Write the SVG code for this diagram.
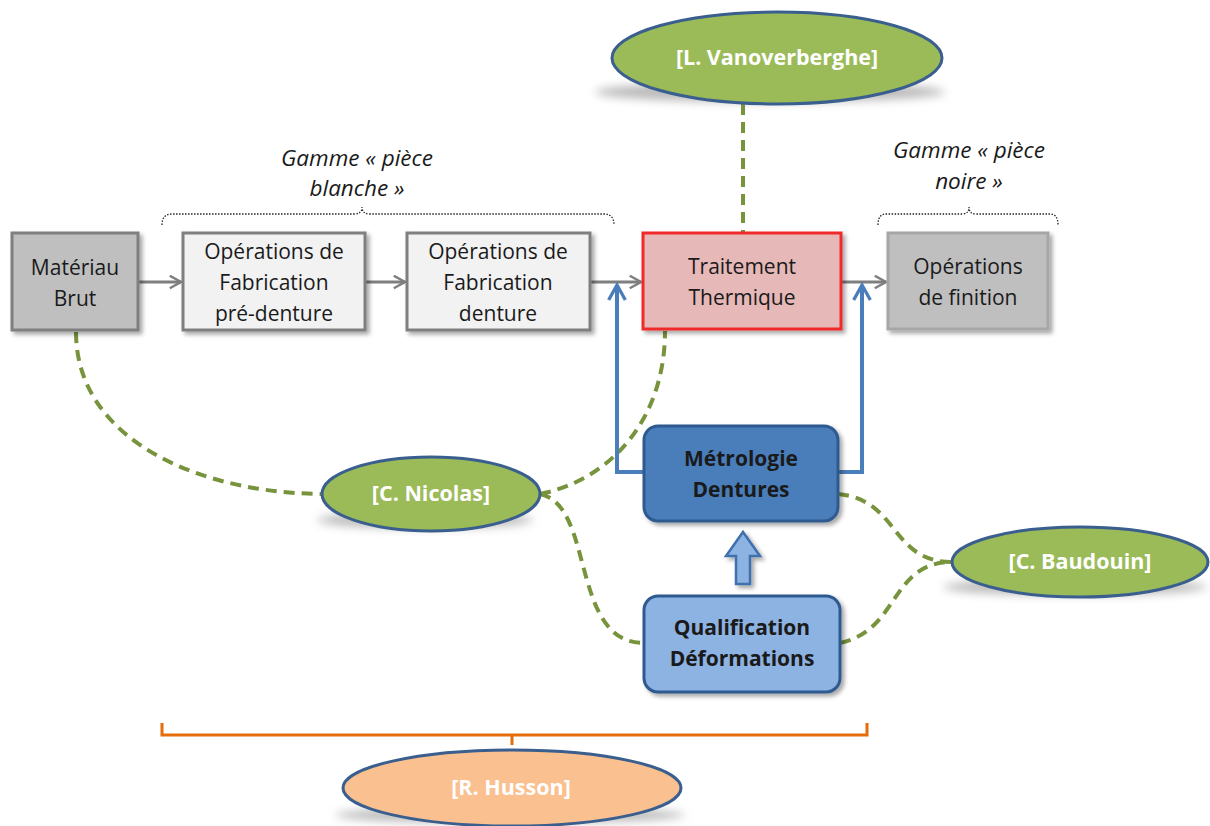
<svg xmlns="http://www.w3.org/2000/svg" width="1210" height="826" viewBox="0 0 1210 826">
<defs>
<filter id="sh" x="-10%" y="-10%" width="130%" height="130%"><feDropShadow dx="3" dy="3" stdDeviation="2" flood-color="#000" flood-opacity="0.35"/></filter>
<filter id="blur" x="-20%" y="-100%" width="140%" height="300%"><feGaussianBlur stdDeviation="5"/></filter>
<marker id="ag" viewBox="0 0 12 12" refX="10" refY="6" markerWidth="5" markerHeight="5" orient="auto" markerUnits="strokeWidth"><path d="M1,1 L10,6 L1,11" fill="none" stroke="#7f7f7f" stroke-width="2"/></marker>
<marker id="ab" viewBox="0 0 12 12" refX="10" refY="6" markerWidth="5" markerHeight="5" orient="auto" markerUnits="strokeWidth"><path d="M1,1 L10,6 L1,11" fill="none" stroke="#4a7ebb" stroke-width="2"/></marker>
</defs>
<style>
.t{font-family:"Open Sans","Liberation Sans",sans-serif;font-size:21px;fill:#1a1a1a;text-anchor:middle}
.b{font-weight:bold}
.w{fill:#fff;font-weight:bold;font-size:21.5px}
.i{font-style:italic;font-size:22.5px}
.green{fill:#9bbb59;stroke:#3a5f8f;stroke-width:3}
.gd{fill:none;stroke:#77933c;stroke-width:4;stroke-dasharray:11,7}
.gray{fill:none;stroke:#7f7f7f;stroke-width:3}
.blue{fill:none;stroke:#4a7ebb;stroke-width:4}
.dot{fill:none;stroke:#222;stroke-width:1.3;stroke-dasharray:1.5,1.5}
.shd{fill:#8a8a8a;opacity:0.6}
</style>

<g id="brackets">
<path class="dot" d="M162,225 Q162,214 172,214 L354,214 Q362,214 362,207 Q362,214 370,214 L604,214 Q614,214 614,225"/>
<path class="dot" d="M878,225 Q878,214 886,214 L962,214 Q969,214 969,207 Q969,214 976,214 L1050,214 Q1058,214 1058,225"/>
<path d="M162,723 L162,735 L512,735 L512,745 M512,735 L867,735 L867,723" fill="none" stroke="#e46c0a" stroke-width="3"/>
</g>
<g id="labels">
<text class="t i" x="357" y="166">Gamme « pièce</text>
<text class="t i" x="357" y="196">blanche »</text>
<text class="t i" x="969" y="158">Gamme « pièce</text>
<text class="t i" x="969" y="189">noire »</text>
</g>

<g id="connectors">
<path class="gd" d="M743,104 L743,233"/>
<path class="gd" d="M76,332 C76,440 200,494 325,494"/>
<path class="gd" d="M540,494 C610,480 665,420 665,331"/>
<path class="gd" d="M540,494 C595,505 570,643 644,643"/>
<path class="gd" d="M838,494 C900,500 890,562 952,562"/>
<path class="gd" d="M840,643 C900,630 890,562 952,562"/>
<path class="gray" d="M138,282 L181,282" marker-end="url(#ag)"/>
<path class="gray" d="M365,282 L405,282" marker-end="url(#ag)"/>
<path class="gray" d="M590,282 L641,282" marker-end="url(#ag)"/>
<path class="gray" d="M841,282 L886,282" marker-end="url(#ag)"/>
<path class="blue" d="M644,472 L617,472 L617,285" marker-end="url(#ab)"/>
<path class="blue" d="M838,472 L862,472 L862,285" marker-end="url(#ab)"/>
<path d="M736,584 L750,584 L750,556 L760,556 L743,532 L726,556 L736,556 Z" fill="#8db3e2" stroke="#3f6fad" stroke-width="2.5" filter="url(#sh)"/>
</g>

<g id="materiau">
<rect x="12" y="233" width="126" height="97" fill="#bfbfbf" stroke="#7f7f7f" stroke-width="3" filter="url(#sh)"/>
<text class="t" x="75" y="275">Matériau</text>
<text class="t" x="75" y="306">Brut</text>
</g>
<g id="pre-denture">
<rect x="183" y="233" width="182" height="97" fill="#f2f2f2" stroke="#7f7f7f" stroke-width="3" filter="url(#sh)"/>
<text class="t" x="274" y="259">Opérations de</text>
<text class="t" x="274" y="290">Fabrication</text>
<text class="t" x="274" y="321">pré-denture</text>
</g>
<g id="denture">
<rect x="407" y="233" width="183" height="97" fill="#f2f2f2" stroke="#7f7f7f" stroke-width="3" filter="url(#sh)"/>
<text class="t" x="498" y="259">Opérations de</text>
<text class="t" x="498" y="290">Fabrication</text>
<text class="t" x="498" y="321">denture</text>
</g>
<g id="traitement">
<rect x="643" y="233" width="198" height="96" fill="#e6b8b7" stroke="#ee2a2a" stroke-width="3" filter="url(#sh)"/>
<text class="t" x="742" y="274">Traitement</text>
<text class="t" x="742" y="305">Thermique</text>
</g>
<g id="finition">
<rect x="888" y="233" width="160" height="96" fill="#bfbfbf" stroke="#a6a6a6" stroke-width="3" filter="url(#sh)"/>
<text class="t" x="968" y="274">Opérations</text>
<text class="t" x="968" y="305">de finition</text>
</g>
<g id="metrologie">
<rect x="644" y="426" width="194" height="95" rx="14" fill="#4a7ebb" stroke="#2f5a8f" stroke-width="3" filter="url(#sh)"/>
<text class="t b" x="741" y="466">Métrologie</text>
<text class="t b" x="741" y="497">Dentures</text>
</g>
<g id="qualification">
<rect x="644" y="596" width="196" height="96" rx="14" fill="#8db3e2" stroke="#2f5a8f" stroke-width="3" filter="url(#sh)"/>
<text class="t b" x="742" y="635">Qualification</text>
<text class="t b" x="742" y="666">Déformations</text>
</g>

<g id="vanoverberghe">
<ellipse class="shd" cx="770" cy="92" rx="175" ry="10" filter="url(#blur)"/>
<ellipse class="green" cx="777" cy="58" rx="165" ry="46"/>
<text class="t w" x="777" y="65">[L. Vanoverberghe]</text>
</g>
<g id="nicolas">
<ellipse class="shd" cx="425" cy="520" rx="108" ry="8" filter="url(#blur)"/>
<ellipse class="green" cx="431" cy="494" rx="109" ry="37"/>
<text class="t w" x="431" y="501">[C. Nicolas]</text>
</g>
<g id="baudouin">
<ellipse class="shd" cx="1075" cy="587" rx="132" ry="8" filter="url(#blur)"/>
<ellipse class="green" cx="1080" cy="562" rx="128" ry="35"/>
<text class="t w" x="1080" y="569">[C. Baudouin]</text>
</g>
<g id="husson">
<ellipse class="shd" cx="510" cy="815" rx="175" ry="8" filter="url(#blur)"/>
<ellipse cx="512" cy="788" rx="169" ry="38" fill="#fac090" stroke="#3a5f8f" stroke-width="3"/>
<text class="t w" x="511" y="795">[R. Husson]</text>
</g>
</svg>
